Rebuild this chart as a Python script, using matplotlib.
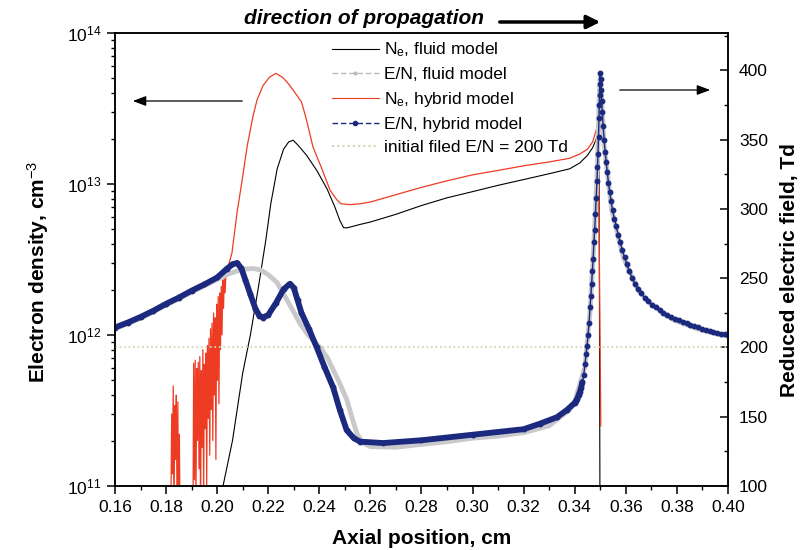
import numpy as np
import matplotlib
matplotlib.use('Agg')
import matplotlib.pyplot as plt
from matplotlib.lines import Line2D
from matplotlib.patches import FancyArrowPatch
from matplotlib.ticker import MultipleLocator, LogLocator, NullFormatter

plt.rcParams['font.family'] = ['Liberation Sans', 'DejaVu Sans']
plt.rcParams['mathtext.fontset'] = 'custom'
plt.rcParams['mathtext.rm'] = 'Liberation Sans'
plt.rcParams['mathtext.it'] = 'Liberation Sans:italic'
plt.rcParams['mathtext.bf'] = 'Liberation Sans:bold'

# electron density, fluid model (cm^-3)
x_ne_fluid = [0.2023, 0.2060, 0.2100, 0.2130, 0.2160, 0.2190, 0.2210, 0.2235, 0.2260, 0.2280,
              0.2297, 0.2315, 0.2350, 0.2390, 0.2430, 0.2460, 0.2480, 0.2495, 0.2510, 0.2560,
              0.2600, 0.2700, 0.2800, 0.2900, 0.3000, 0.3100, 0.3200, 0.3300, 0.3380, 0.3420,
              0.3450, 0.3470, 0.3485, 0.3495, 0.3500]
ne_fluid = [1.0e11, 2.0e11, 5.6e11, 1.0e12, 2.0e12, 4.2e12, 7.4e12, 1.26e13, 1.7e13, 1.9e13,
            1.95e13, 1.82e13, 1.55e13, 1.23e13, 9.3e12, 7.1e12, 5.75e12, 5.13e12, 5.13e12, 5.4e12,
            5.6e12, 6.3e12, 7.2e12, 8.1e12, 8.9e12, 9.8e12, 1.07e13, 1.17e13, 1.26e13, 1.38e13,
            1.55e13, 1.74e13, 2.0e13, 2.14e13, 1.0e10]

# electron density, hybrid model (cm^-3)
x_ne_hyb = [0.1818, 0.1822, 0.1825, 0.1828, 0.1831, 0.1834, 0.1837, 0.1840, 0.1843, 0.1846,
            0.1849, 0.1852, 0.1855, 0.1905, 0.1908, 0.1911, 0.1914, 0.1917, 0.1920, 0.1923,
            0.1926, 0.1929, 0.1932, 0.1935, 0.1938, 0.1941, 0.1944, 0.1947, 0.1950, 0.1953,
            0.1956, 0.1959, 0.1962, 0.1965, 0.1968, 0.1971, 0.1974, 0.1977, 0.1980, 0.1983,
            0.1986, 0.1989, 0.1992, 0.1995, 0.1998, 0.2001, 0.2004, 0.2007, 0.2010, 0.2013,
            0.2016, 0.2019, 0.2022, 0.2025, 0.2028, 0.2031, 0.2035,
            0.2042, 0.2058, 0.2078, 0.2100, 0.2117, 0.2140, 0.2156, 0.2180, 0.2205, 0.2230,
            0.2255, 0.2275, 0.2297, 0.2330, 0.2350, 0.2375, 0.2410, 0.2442, 0.2470, 0.2485,
            0.2520, 0.2560, 0.2600, 0.2700, 0.2800, 0.2900, 0.3000, 0.3100, 0.3200, 0.3300,
            0.3380, 0.3420, 0.3450, 0.3470, 0.3485, 0.3492, 0.3502]
ne_hyb = [5e10, 3.0e11, 1.2e11, 4.6e11, 6e10, 3.4e11, 1.5e11, 4.0e11, 7e10, 3.6e11,
          5e10, 2.2e11, 5e10, 5e10, 6.5e11, 1.1e11, 6.8e11, 8e10, 6.0e11, 2.0e11,
          6.6e11, 1.3e11, 7.2e11, 6e10, 5.8e11, 1.8e11, 8.0e11, 9e10, 6.4e11, 2.4e11,
          7.6e11, 1.0e11, 8.5e11, 2.8e11, 9.5e11, 1.6e11, 1.1e12, 3.2e11, 1.2e12, 2.0e11,
          1.4e12, 4.0e11, 1.3e12, 1.5e11, 1.6e12, 5.0e11, 1.8e12, 3.5e11, 1.9e12, 8.0e11,
          2.1e12, 1.0e12, 2.3e12, 1.5e12, 2.6e12, 1.9e12, 2.7e12,
          2.8e12, 3.5e12, 6.5e12, 1.12e13, 1.76e13, 2.8e13, 3.6e13, 4.5e13, 5.1e13, 5.4e13,
          5.1e13, 4.7e13, 4.2e13, 3.5e13, 2.65e13, 1.76e13, 1.26e13, 9.1e12, 7.8e12, 7.4e12,
          7.3e12, 7.4e12, 7.6e12, 8.5e12, 9.5e12, 1.05e13, 1.15e13, 1.23e13, 1.32e13, 1.4e13,
          1.48e13, 1.58e13, 1.7e13, 1.9e13, 2.3e13, 2.4e13, 2.5e11]

# reduced electric field, fluid model (Td)
x_en_fluid = [0.160, 0.170, 0.180, 0.190, 0.200, 0.205, 0.2100, 0.2140, 0.2170, 0.2200,
              0.2234, 0.2265, 0.2297, 0.2325, 0.2352, 0.2380, 0.2403, 0.2430, 0.2454, 0.2480,
              0.2508, 0.2530, 0.2547, 0.2570, 0.2600, 0.2700, 0.2800, 0.2900, 0.3000, 0.3100,
              0.3200, 0.3300, 0.3380, 0.3400, 0.3440, 0.3460, 0.3475, 0.3488, 0.3497, 0.3500,
              0.3515, 0.3545, 0.3590, 0.3650, 0.3695, 0.3785, 0.3879, 0.4000]
en_fluid = [213.5, 221, 230.5, 240, 249, 253.5, 256.5, 257, 256, 252.5,
            247, 237, 226.6, 217, 210, 204, 200, 193, 184, 174,
            162, 148, 138, 131, 128.5, 128, 130, 132, 134.5, 136,
            138.5, 143.5, 155, 161, 186, 226, 276, 327, 388, 396,
            346, 299, 265, 241, 232, 220, 213.5, 208]

# reduced electric field, hybrid model (Td)
x_en_hyb = [0.160, 0.165, 0.170, 0.175, 0.180, 0.185, 0.190, 0.195, 0.200, 0.2038,
            0.2060, 0.2078, 0.2095, 0.2110, 0.2129, 0.2150, 0.2165, 0.2180, 0.2200, 0.2230,
            0.2260, 0.2285, 0.2300, 0.2315, 0.2330, 0.2360, 0.2390, 0.2420, 0.2454, 0.2480,
            0.2507, 0.2535, 0.2560, 0.2650, 0.2800, 0.3000, 0.3200, 0.3264, 0.3330, 0.3370,
            0.3400, 0.3405, 0.3410, 0.3415, 0.3420, 0.3425, 0.3430, 0.3435, 0.3440, 0.3444,
            0.3448, 0.3452, 0.3456, 0.3460, 0.3463, 0.3466, 0.3469, 0.3472, 0.3475, 0.3478,
            0.3481, 0.3484, 0.3487, 0.3489, 0.3491, 0.3493, 0.3495, 0.3496, 0.3497, 0.3498,
            0.3499, 0.3501, 0.3503, 0.3505, 0.3508, 0.3511, 0.3515, 0.3519, 0.3523, 0.3527,
            0.3532, 0.3537, 0.3542, 0.3548, 0.3555, 0.3562, 0.3570, 0.3578, 0.3586, 0.3595,
            0.3604, 0.3614, 0.3625, 0.3636, 0.3648, 0.3660, 0.3674, 0.3688, 0.3702, 0.3717,
            0.3732, 0.3747, 0.3762, 0.3777, 0.3792, 0.3808, 0.3823, 0.3838, 0.3853, 0.3868,
            0.3883, 0.3898, 0.3913, 0.3928, 0.3943, 0.3958, 0.3973, 0.3988, 0.4000]
en_hyb = [214.4, 218, 222, 226.5, 231.5, 236, 241, 245.5, 250.5, 256.8,
          260, 261, 257, 249, 238.8, 228, 223, 221.6, 223.5, 232,
          242, 246, 243, 234, 225, 213, 200, 186, 171.2, 155,
          140.3, 134.5, 132, 131, 133, 137, 141, 145, 149.6, 155,
          160, 161.5, 163, 165.5, 168, 171, 175, 180, 188, 195,
          201, 209, 218, 229, 237, 246, 255, 264, 276, 285,
          296, 308, 320, 330, 340, 352, 366, 375, 382, 390,
          398, 394, 386, 378, 370, 360, 350, 341, 334, 327,
          319, 312, 306, 299, 293, 288, 281, 276, 270, 265,
          260, 255, 250, 246, 242, 239, 236, 233.5, 231, 229,
          227, 225, 223.5, 222, 220.5, 219.5, 218.5, 217.5, 216.5, 215.5,
          214.5, 213.5, 212.5, 212, 211, 210.5, 210, 209.5, 209]

en_initial = 200

x_ticks = [0.16, 0.18, 0.20, 0.22, 0.24, 0.26, 0.28, 0.30, 0.32, 0.34, 0.36, 0.38, 0.40]
ne_ticks = [1e11, 1e12, 1e13, 1e14]
ne_tick_labels = ['$10^{11}$', '$10^{12}$', '$10^{13}$', '$10^{14}$']
en_ticks = [100, 150, 200, 250, 300, 350, 400]

blue = '#1b2a7e'
gray = '#c9c9cc'
red = '#ee3b24'
dotted = '#d9d3b4'

fig = plt.figure(figsize=(8, 5.5), dpi=100)
ax = fig.add_axes([0.14375, 0.1164, 0.76625, 0.8236])
ax2 = ax.twinx()

# left axis: electron density
ax.plot(x_ne_fluid, ne_fluid, color='black', lw=0.8)
ax.plot(x_ne_hyb, ne_hyb, color=red, lw=0.9)
ax.set_yscale('log')
ax.set_ylim(1e11, 1e14)
ax.set_xlim(0.16, 0.40)
ax.set_yticks(ne_ticks)
ax.set_yticklabels(ne_tick_labels)
ax.yaxis.set_minor_locator(LogLocator(base=10, subs=np.arange(2, 10)))
ax.yaxis.set_minor_formatter(NullFormatter())
ax.set_xticks(x_ticks)
ax.set_xticklabels(['%.2f' % v for v in x_ticks])
ax.xaxis.set_minor_locator(MultipleLocator(0.01))

# right axis: reduced field
xe = np.array(x_en_hyb)
ee = np.array(en_hyb)
ax2.axhline(en_initial, color=dotted, lw=1.3, ls=(0, (1, 1.5)))
ax2.plot(x_en_fluid, en_fluid, color=gray, lw=3.5, solid_capstyle='round')
thick = xe <= 0.3433
ax2.plot(xe[thick], ee[thick], color=blue, lw=4.2, solid_capstyle='round')
ax2.plot(xe, ee, color=blue, lw=1.0, marker='o', ms=3.2, mec=blue, mfc=blue)
ax2.set_ylim(100, 427)
ax2.set_yticks(en_ticks)
ax2.yaxis.set_minor_locator(MultipleLocator(25))

for a in (ax, ax2):
    for s in a.spines.values():
        s.set_linewidth(1.1)
ax.tick_params(axis='both', which='major', labelsize=12.5, length=6, width=1.1, direction='out')
ax.tick_params(axis='both', which='minor', length=3, width=1.0, direction='out')
ax.tick_params(axis='x', pad=4)
ax2.tick_params(axis='y', which='major', labelsize=12.5, length=6, width=1.1, direction='in', pad=8)
ax2.tick_params(axis='y', which='minor', length=3, width=1.0, direction='in')

ax.set_xlabel('Axial position, cm', fontsize=15, fontweight='bold', labelpad=10)
fig.text(38 / 800, 1 - 272 / 550, 'Electron density, cm$^{-3}$', fontsize=15, fontweight='bold',
         rotation=90, ha='center', va='center')
fig.text(789 / 800, 1 - 270 / 550, 'Reduced electric field, Td', fontsize=15, fontweight='bold',
         rotation=90, ha='center', va='center')

# legend
handles = [
    Line2D([], [], color='black', lw=0.8),
    Line2D([], [], color='#bbbbbb', lw=1.0, ls=(0, (4, 2)), marker='.', ms=4),
    Line2D([], [], color=red, lw=0.8),
    Line2D([], [], color=blue, lw=1.0, ls=(0, (4, 2)), marker='o', ms=3),
    Line2D([], [], color=dotted, lw=1.5, ls=(0, (1, 1.5))),
]
labels = ['N$_\\mathregular{e}$, fluid model', 'E/N, fluid model', 'N$_\\mathregular{e}$, hybrid model',
          'E/N, hybrid model', 'initial filed E/N = 200 Td']
fig.legend(handles, labels, loc='upper left', bbox_to_anchor=(0.404, 0.942), frameon=False,
           fontsize=12.5, handlelength=2.7, handletextpad=0.3, labelspacing=0.45, borderpad=0)

# arrows and propagation title
fig.text(364 / 800, 1 - 19 / 550, 'direction of propagation', fontsize=15, fontweight='bold',
         fontstyle='italic', ha='center', va='center')
fig.patches.append(FancyArrowPatch(
    (497 / 800, 1 - 22 / 550), (603 / 800, 1 - 22 / 550), transform=fig.transFigure,
    arrowstyle='-|>,head_length=8,head_width=4', lw=2.5, color='black', mutation_scale=1))
fig.patches.append(FancyArrowPatch(
    (245 / 800, 1 - 101 / 550), (130 / 800, 1 - 101 / 550), transform=fig.transFigure,
    arrowstyle='-|>,head_length=8,head_width=3', lw=0.9, color='black', mutation_scale=1))
fig.patches.append(FancyArrowPatch(
    (617 / 800, 1 - 90 / 550), (713 / 800, 1 - 90 / 550), transform=fig.transFigure,
    arrowstyle='-|>,head_length=8,head_width=3', lw=0.9, color='black', mutation_scale=1))

fig.savefig('out.png', dpi=100)
